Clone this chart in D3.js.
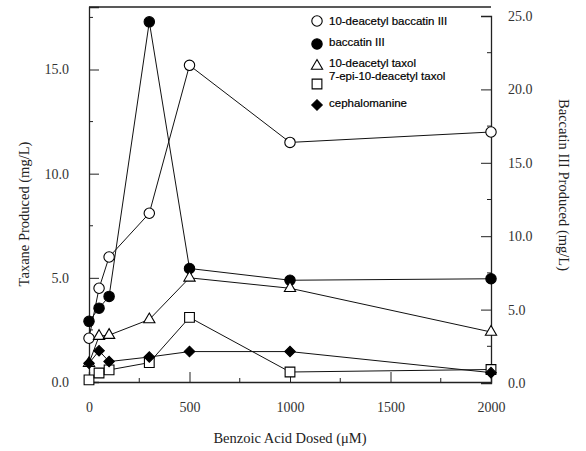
<!DOCTYPE html>
<html>
<head>
<meta charset="utf-8">
<script src="https://cdn.jsdelivr.net/npm/d3@7"></script>
<style>
  body { margin: 0; background: #fff; }
  .tick text { font-family: "Liberation Serif", "DejaVu Serif", serif; font-size: 14px; fill: #333; }
  .title { font-family: "Liberation Serif", "DejaVu Serif", serif; font-size: 14.5px; fill: #222; }
  .legend text { font-family: "Liberation Sans", Arial, sans-serif; font-size: 11.5px; fill: #000; stroke: #000; stroke-width: 0.2px; }
</style>
</head>
<body>
<div id="chart"></div>
<script>
// benzoic acid doses (uM)
var doses = [0, 50, 100, 300, 500, 1000, 2000];

// left axis series (mg/L)
var dab = [2.1, 4.5, 6.0, 8.1, 15.2, 11.5, 12.0];      // 10-deacetyl baccatin III
var dt = [0.9, 2.2, 2.25, 3.0, 5.0, 4.5, 2.4];         // 10-deacetyl taxol
var epi = [0.1, 0.43, 0.58, 0.93, 3.1, 0.48, 0.6];     // 7-epi-10-deacetyl taxol
var ceph = [0.9, 1.5, 0.98, 1.2, 1.46, 1.46, 0.45];    // cephalomanine

// right axis series (mg/L)
var bac = [4.2, 5.1, 5.9, 24.6, 7.8, 7.0, 7.1];        // baccatin III

var xTicks = [0, 500, 1000, 1500, 2000];
var leftTicks = [0, 5, 10, 15];
var rightTicks = [0, 5, 10, 15, 20, 25];

var names = ["10-deacetyl baccatin III", "baccatin III", "10-deacetyl taxol",
             "7-epi-10-deacetyl taxol", "cephalomanine"];

var width = 586, height = 451;
var svg = d3.select("#chart").append("svg")
	.attr("width", width).attr("height", height);

var x = d3.scaleLinear().domain([0, 2000]).range([89, 491]);
var yL = d3.scaleLinear().domain([0, 18]).range([382, 7]);
var yR = d3.scaleLinear().domain([0, 25]).range([383, 16]);

// frame
svg.append("line").attr("x1", 89).attr("x2", 491).attr("y1", 7).attr("y2", 7)
	.attr("stroke", "#222").attr("stroke-width", 1.3);

// axes with inward ticks
function minorTicks(axisG, scale, vals, orient, len) {
	axisG.selectAll(".minor").data(vals).enter().append("line")
	.attr("class", "minor").attr("stroke", "#222")
	.attr(orient == "x" ? "x1" : "y1", function(d) { return scale(d); })
	.attr(orient == "x" ? "x2" : "y2", function(d) { return scale(d); })
	.attr(orient == "x" ? "y1" : "x1", 0)
	.attr(orient == "x" ? "y2" : "x2", len);
}

var gx = svg.append("g").attr("transform", "translate(0,382)")
	.call(d3.axisBottom(x).tickValues(xTicks).tickSize(-10).tickPadding(20).tickFormat(d3.format("d")));
minorTicks(gx, x, [250, 750, 1250, 1750], "x", -4);

var gl = svg.append("g").attr("transform", "translate(89,0)")
	.call(d3.axisLeft(yL).tickValues(leftTicks).tickSize(-10).tickPadding(20).tickFormat(d3.format(".1f")));
minorTicks(gl, yL, [2.5, 7.5, 12.5, 17.5], "y", 4);

var gr = svg.append("g").attr("transform", "translate(491,0)")
	.call(d3.axisRight(yR).tickValues(rightTicks).tickSize(-10).tickPadding(17).tickFormat(d3.format(".1f")));
minorTicks(gr, yR, [2.5, 7.5, 12.5, 17.5, 22.5], "y", -4);

svg.selectAll(".domain").attr("stroke", "#222").attr("stroke-width", 1.3);
svg.selectAll(".tick line").attr("stroke", "#222");

// series
var series = [
	{ vals: dab, y: yL, shape: "circle", fill: "#fff" },
	{ vals: bac, y: yR, shape: "circle", fill: "#000" },
	{ vals: dt, y: yL, shape: "triangle", fill: "#fff" },
	{ vals: epi, y: yL, shape: "square", fill: "#fff" },
	{ vals: ceph, y: yL, shape: "diamond", fill: "#000" }
];

function symbolPath(shape) {
	if (shape == "circle") return d3.symbol().type(d3.symbolCircle).size(85)();
	if (shape == "triangle") return d3.symbol().type(d3.symbolTriangle).size(55)();
	if (shape == "square") return d3.symbol().type(d3.symbolSquare).size(95)();
	return d3.symbol().type(d3.symbolSquare).size(55)();
}

series.forEach(function(s) {
	var line = d3.line()
		.x(function(d, i) { return x(doses[i]); })
		.y(function(d) { return s.y(d); });
	svg.append("path").datum(s.vals)
		.attr("d", line).attr("fill", "none")
		.attr("stroke", "#111").attr("stroke-width", 1);
});

series.forEach(function(s) {
	svg.selectAll(null).data(s.vals).enter().append("path")
		.attr("d", symbolPath(s.shape))
		.attr("transform", function(d, i) {
			return "translate(" + x(doses[i]) + "," + s.y(d) + ")" + (s.shape == "diamond" ? " rotate(45)" : "");
		})
		.attr("fill", s.fill).attr("stroke", "#000").attr("stroke-width", 1.1);
});

// legend
var legend = svg.append("g").attr("class", "legend");
var legY = [21, 44, 66, 84, 105];
var textY = [25, 46, 67, 80, 107];
series.forEach(function(s, i) {
	legend.append("path").attr("d", symbolPath(s.shape))
		.attr("transform", "translate(317," + legY[i] + ")" + (s.shape == "diamond" ? " rotate(45)" : ""))
		.attr("fill", s.fill).attr("stroke", "#000").attr("stroke-width", 1.1);
	legend.append("text").attr("x", 329).attr("y", textY[i]).text(names[i]);
});

// titles
svg.append("text").attr("class", "title")
	.attr("transform", "translate(29,214) rotate(-90)")
	.attr("text-anchor", "middle").text("Taxane Produced (mg/L)");
svg.append("text").attr("class", "title")
	.attr("transform", "translate(559,185) rotate(90)")
	.attr("text-anchor", "middle").text("Baccatin III Produced (mg/L)");
svg.append("text").attr("class", "title")
	.attr("x", 290).attr("y", 443)
	.attr("text-anchor", "middle").text("Benzoic Acid Dosed (\u03bcM)");
</script>
</body>
</html>
